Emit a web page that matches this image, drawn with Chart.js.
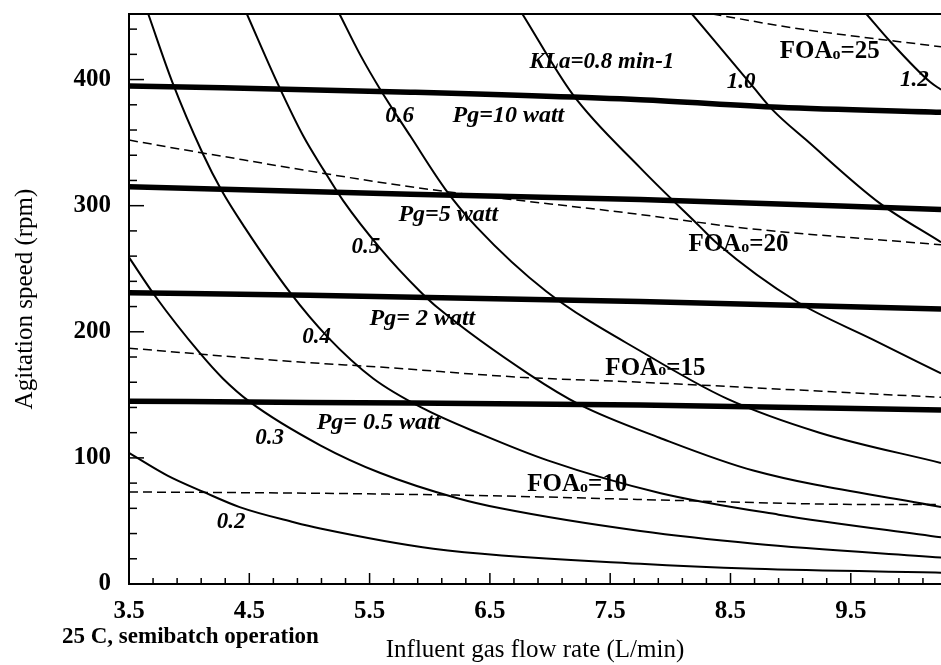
<!DOCTYPE html>
<html><head><meta charset="utf-8">
<script src="https://cdn.jsdelivr.net/npm/chart.js@4"></script>
<style>html,body{margin:0;padding:0;background:#fff;} canvas{display:block;}</style>
</head><body>
<canvas id="c" width="941" height="665"></canvas>
<script>
// ---- KLa iso-curves (min-1) ----
const kla02x = [3.5, 3.82, 4.12, 4.42, 4.87, 5.09, 6.03, 7.75, 8.7, 10.25];
const kla02y = [104, 86, 73, 61, 49, 44, 28, 16, 12, 9];
const kla03x = [3.5, 3.72, 4.09, 4.28, 4.51, 5.09, 5.59, 6.23, 6.59, 7.75, 8.7, 10.25];
const kla03y = [259, 228, 183, 163, 144, 110, 88, 68, 60, 42, 32, 21];
const kla04x = [3.66, 3.86, 4.11, 4.27, 4.46, 4.84, 5.15, 5.53, 5.95, 6.42, 6.98, 7.92, 8.9, 10.25];
const kla04y = [452, 398, 342, 312, 283, 231, 196, 163, 139, 119, 98, 72, 55, 37];
const kla05x = [4.48, 4.74, 4.95, 5.12, 5.28, 5.59, 5.92, 6.08, 6.83, 7.25, 7.91, 8.69, 10.25];
const kla05y = [452, 396, 355, 328, 304, 266, 232, 218, 166, 142, 116, 90, 61];
const kla06x = [5.25, 5.42, 5.59, 5.84, 6.13, 6.39, 6.97, 7.8, 8.47, 9.24, 10.25];
const kla06y = [452, 420, 392, 355, 313, 283, 232, 182, 147, 120, 96];
const kla08x = [6.77, 7.19, 7.75, 8.25, 8.39, 9.05, 9.68, 10.25];
const kla08y = [452, 388, 330, 283, 270, 224, 194, 167];
const kla10x = [8.18, 8.69, 8.85, 9.13, 9.74, 10.25];
const kla10y = [452, 394, 376, 352, 302, 271];
const kla12x = [9.63, 9.83, 10.16, 10.25];
const kla12y = [452, 430, 398, 392];
// ---- Gassed power lines (Pg, watt) ----
const pg10x = [3.5, 5.84, 7.75, 8.9, 10.25];
const pg10y = [395, 390, 384, 378, 374];
const pg5x = [3.5, 5.84, 7.75, 10.25];
const pg5y = [315, 309, 305, 297];
const pg2x = [3.5, 5.0, 7.75, 10.25];
const pg2y = [231, 229, 224, 218];
const pg05x = [3.5, 5.0, 7.75, 10.25];
const pg05y = [145, 144, 142, 138];
// ---- FOAo lines (dashed) ----
const foa10x = [3.5, 5.0, 6.5, 7.75, 9.75, 10.25];
const foa10y = [73, 72, 70, 67, 63, 63];
const foa15x = [3.5, 4.92, 5.59, 6.75, 7.75, 10.25];
const foa15y = [187, 176, 172, 164, 160, 148];
const foa20x = [3.5, 4.1, 5.84, 7.75, 8.64, 10.25];
const foa20y = [352, 342, 315, 293, 282, 269];
const foa25x = [8.35, 9.02, 10.25];
const foa25y = [452, 441, 426];
// ---- ticks ----
const xTickValues = [3.5, 4.5, 5.5, 6.5, 7.5, 8.5, 9.5];
const yTickValues = [0, 100, 200, 300, 400];
// ---- in-plot labels ----
const klaLabels = ['KLa=0.8 min-1', '1.0', '1.2', '0.6', '0.5', '0.4', '0.3', '0.2'];
const klaLabelX = [6.83, 8.47, 9.91, 5.63, 5.35, 4.94, 4.55, 4.23];
const klaLabelY = [414, 398, 400, 371, 267, 196, 116, 49];
const pgLabels = ['Pg=10 watt', 'Pg=5 watt', 'Pg= 2 watt', 'Pg= 0.5 watt'];
const pgLabelX = [6.19, 5.74, 5.5, 5.06];
const pgLabelY = [371, 293, 210, 128];
const foaLabels = ['25', '20', '15', '10'];
const foaLabelX = [8.91, 8.15, 7.46, 6.81];
const foaLabelY = [422, 269, 171, 79];

const serif = "'Liberation Serif','Times New Roman',serif";
const datasets = [];
function addLine(xs, ys, kind) {
  const ds = {data: xs.map((x, i) => ({x: x, y: ys[i]})), borderColor: '#000', pointRadius: 0,
    cubicInterpolationMode: 'monotone', fill: false, borderCapStyle: 'butt'};
  if (kind === 'kla') { ds.borderWidth = 2; }
  else if (kind === 'pg') { ds.borderWidth = 5.5; }
  else { ds.borderWidth = 1.5; ds.borderDash = [9, 5]; }
  datasets.push(ds);
}
[[kla02x,kla02y],[kla03x,kla03y],[kla04x,kla04y],[kla05x,kla05y],[kla06x,kla06y],[kla08x,kla08y],[kla10x,kla10y],[kla12x,kla12y]].forEach(p => addLine(p[0], p[1], 'kla'));
[[pg10x,pg10y],[pg5x,pg5y],[pg2x,pg2y],[pg05x,pg05y]].forEach(p => addLine(p[0], p[1], 'pg'));
[[foa10x,foa10y],[foa15x,foa15y],[foa20x,foa20y],[foa25x,foa25y]].forEach(p => addLine(p[0], p[1], 'foa'));

const decor = {
  id: 'decor',
  afterDatasetsDraw(chart) {
    const {ctx, chartArea: {left, right, top, bottom}, scales: {x, y}} = chart;
    ctx.save();
    ctx.strokeStyle = '#000';
    ctx.lineWidth = 2;
    ctx.beginPath(); ctx.moveTo(left, top); ctx.lineTo(right, top); ctx.stroke();
    ctx.lineWidth = 1.5;
    for (let i = 0; i * 0.2 + 3.5 <= x.max + 1e-9; i++) {
      const v = 3.5 + i * 0.2;
      const px = x.getPixelForValue(v);
      const len = (i % 5 === 0) ? 11 : 6;
      ctx.beginPath(); ctx.moveTo(px, bottom); ctx.lineTo(px, bottom - len); ctx.stroke();
    }
    for (let v = 0; v <= y.max; v += 20) {
      const py = y.getPixelForValue(v);
      const len = (v % 100 === 0) ? 15 : 8;
      ctx.beginPath(); ctx.moveTo(left, py); ctx.lineTo(left + len, py); ctx.stroke();
    }
    ctx.fillStyle = '#000';
    ctx.textBaseline = 'middle';
    ctx.textAlign = 'left';
    ctx.font = 'italic bold 23px ' + serif;
    klaLabels.forEach((t, i) => ctx.fillText(t, x.getPixelForValue(klaLabelX[i]), y.getPixelForValue(klaLabelY[i])));
    ctx.font = 'italic bold 24px ' + serif;
    pgLabels.forEach((t, i) => ctx.fillText(t, x.getPixelForValue(pgLabelX[i]), y.getPixelForValue(pgLabelY[i])));
    foaLabels.forEach((t, i) => {
      let px = x.getPixelForValue(foaLabelX[i]);
      const py = y.getPixelForValue(foaLabelY[i]);
      ctx.font = 'bold 25px ' + serif;
      ctx.fillText('FOA', px, py); px += ctx.measureText('FOA').width;
      ctx.font = 'bold 16px ' + serif;
      ctx.fillText('o', px, py + 3); px += ctx.measureText('o').width;
      ctx.font = 'bold 25px ' + serif;
      ctx.fillText('=' + t, px, py);
    });
    ctx.font = 'bold 23px ' + serif;
    ctx.fillText('25 C, semibatch operation', left - 67, 637);
    ctx.restore();
  }
};

new Chart(document.getElementById('c'), {
  type: 'line',
  data: {datasets: datasets},
  plugins: [decor],
  options: {
    responsive: false, animation: false, devicePixelRatio: 1,
    layout: {padding: {top: 14, right: 0, left: 0, bottom: 0}},
    plugins: {legend: {display: false}, tooltip: {enabled: false}},
    scales: {
      x: {
        type: 'linear', min: 3.5, max: 10.25,
        afterBuildTicks: s => { s.ticks = xTickValues.map(v => ({value: v})); },
        afterFit: s => { s.height = 81; s.paddingLeft = 0; s.paddingRight = 0; },
        grid: {display: true, drawOnChartArea: false, drawTicks: false},
        border: {display: true, color: '#000', width: 2},
        ticks: {font: {family: serif, size: 25, weight: 'bold'}, color: '#000', padding: 13,
          maxRotation: 0, autoSkip: false, callback: v => Number(v).toFixed(1)},
        title: {display: true, text: 'Influent gas flow rate (L/min)', color: '#000',
          font: {family: serif, size: 25}, padding: {top: 0, bottom: 0}}
      },
      y: {
        type: 'linear', min: 0, max: 452,
        afterBuildTicks: s => { s.ticks = yTickValues.map(v => ({value: v})); },
        afterFit: s => { s.width = 129; s.paddingTop = 0; s.paddingBottom = 0; },
        grid: {display: true, drawOnChartArea: false, drawTicks: false},
        border: {display: true, color: '#000', width: 2},
        ticks: {font: {family: serif, size: 25, weight: 'bold'}, color: '#000', padding: 18,
          callback: v => String(v)},
        title: {display: true, text: 'Agitation speed (rpm)', color: '#000',
          font: {family: serif, size: 25}, padding: {top: 10, bottom: 0}}
      }
    }
  }
});
</script>
</body></html>
